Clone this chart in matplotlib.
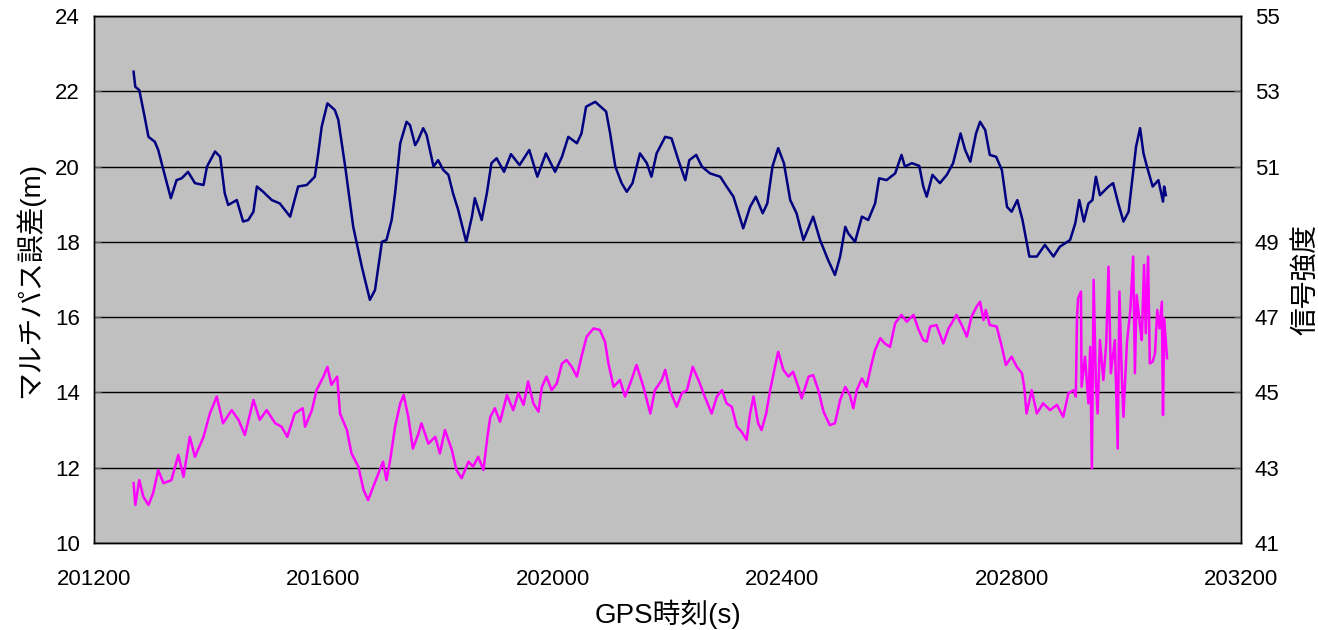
import matplotlib
matplotlib.use("Agg")
import matplotlib.pyplot as plt

# ---- data -------------------------------------------------------------
# multipath error (m), left axis
mp_time = [201269, 201272, 201279, 201286, 201295, 201306, 201312, 201321, 201334, 201344,
           201353, 201364, 201376, 201391, 201397, 201411, 201420, 201428, 201434, 201449,
           201460, 201469, 201478, 201484, 201495, 201510, 201524, 201542, 201556, 201571,
           201585, 201591, 201597, 201607, 201620, 201626, 201638, 201652, 201667, 201681,
           201690, 201702, 201710, 201719, 201725, 201734, 201745, 201751, 201760, 201765,
           201774, 201780, 201792, 201800, 201809, 201818, 201826, 201835, 201849, 201859,
           201864, 201876, 201885, 201893, 201902, 201915, 201927, 201942, 201959, 201973,
           201988, 202004, 202016, 202027, 202042, 202050, 202058, 202074, 202093, 202100,
           202109, 202120, 202129, 202139, 202152, 202164, 202172, 202181, 202196, 202207,
           202219, 202231, 202238, 202250, 202260, 202274, 202292, 202303, 202315, 202332,
           202344, 202354, 202366, 202374, 202383, 202393, 202403, 202414, 202425, 202437,
           202454, 202466, 202480, 202492, 202501, 202510, 202515, 202527, 202539, 202550,
           202562, 202569, 202582, 202597, 202608, 202614, 202626, 202639, 202646, 202652,
           202662, 202675, 202687, 202698, 202711, 202719, 202728, 202738, 202745, 202754,
           202762, 202773, 202783, 202792, 202800, 202810, 202819, 202831, 202844, 202858,
           202873, 202884, 202902, 202911, 202918, 202926, 202934, 202941, 202947, 202954,
           202969, 202977, 202986, 202995, 203004, 203009, 203017, 203024, 203030, 203036,
           203046, 203056, 203064, 203066, 203069]
mp_error = [22.52, 22.12, 22.03, 21.50, 20.79, 20.66, 20.44, 19.91, 19.16, 19.64,
            19.69, 19.86, 19.56, 19.51, 20.00, 20.40, 20.26, 19.29, 18.98, 19.11,
            18.54, 18.58, 18.80, 19.47, 19.33, 19.11, 19.02, 18.67, 19.47, 19.51,
            19.73, 20.35, 21.06, 21.68, 21.50, 21.24, 20.00, 18.40, 17.34, 16.46,
            16.72, 18.00, 18.05, 18.58, 19.29, 20.62, 21.19, 21.10, 20.57, 20.70,
            21.02, 20.84, 20.00, 20.17, 19.91, 19.78, 19.29, 18.85, 18.00, 18.67,
            19.16, 18.58, 19.29, 20.09, 20.22, 19.86, 20.33, 20.04, 20.44, 19.73,
            20.35, 19.86, 20.26, 20.79, 20.62, 20.88, 21.59, 21.72, 21.46, 20.88,
            20.00, 19.56, 19.33, 19.56, 20.35, 20.09, 19.73, 20.35, 20.79, 20.75,
            20.17, 19.64, 20.17, 20.31, 20.00, 19.82, 19.73, 19.47, 19.20, 18.36,
            18.93, 19.20, 18.76, 19.02, 20.00, 20.49, 20.09, 19.11, 18.76, 18.05,
            18.67, 18.05, 17.52, 17.12, 17.61, 18.40, 18.23, 18.00, 18.67, 18.58,
            19.02, 19.69, 19.64, 19.82, 20.31, 20.00, 20.09, 20.02, 19.47, 19.20,
            19.78, 19.56, 19.78, 20.09, 20.88, 20.44, 20.13, 20.88, 21.19, 20.97,
            20.31, 20.26, 19.91, 18.93, 18.80, 19.11, 18.58, 17.61, 17.61, 17.92,
            17.61, 17.87, 18.05, 18.49, 19.11, 18.54, 19.02, 19.11, 19.73, 19.24,
            19.47, 19.56, 19.02, 18.54, 18.80, 19.47, 20.53, 21.02, 20.35, 20.00,
            19.47, 19.64, 19.07, 19.47, 19.24]

# signal strength, right axis
sig_time = [201269, 201272, 201279, 201286, 201295, 201303, 201312, 201321, 201335, 201347,
            201356, 201367, 201376, 201391, 201402, 201414, 201425, 201440, 201452, 201463,
            201478, 201489, 201501, 201516, 201527, 201537, 201550, 201564, 201568, 201580,
            201588, 201600, 201607, 201614, 201624, 201629, 201641, 201649, 201661, 201670,
            201678, 201687, 201696, 201704, 201710, 201716, 201725, 201734, 201740, 201748,
            201756, 201765, 201771, 201783, 201795, 201803, 201812, 201824, 201832, 201841,
            201853, 201861, 201870, 201879, 201886, 201891, 201899, 201908, 201920, 201931,
            201940, 201949, 201957, 201966, 201975, 201981, 201989, 201998, 202007, 202016,
            202024, 202033, 202042, 202050, 202059, 202071, 202082, 202091, 202097, 202106,
            202117, 202126, 202135, 202146, 202158, 202170, 202178, 202190, 202196, 202204,
            202216, 202225, 202234, 202244, 202254, 202265, 202277, 202286, 202295, 202303,
            202312, 202321, 202329, 202338, 202344, 202350, 202358, 202364, 202372, 202379,
            202388, 202393, 202402, 202411, 202419, 202428, 202434, 202446, 202454, 202463,
            202472, 202483, 202492, 202501, 202510, 202518, 202524, 202530, 202539, 202547,
            202556, 202562, 202571, 202579, 202588, 202597, 202608, 202617, 202629, 202637,
            202646, 202652, 202658, 202669, 202681, 202690, 202704, 202713, 202722, 202730,
            202739, 202745, 202751, 202755, 202762, 202774, 202783, 202790, 202800, 202809,
            202818, 202822, 202826, 202835, 202844, 202855, 202867, 202879, 202890, 202899,
            202908, 202912, 202914, 202916, 202921, 202922, 202928, 202934, 202937, 202940,
            202943, 202947, 202950, 202954, 202960, 202965, 202969, 202973, 202980, 202985,
            202988, 202992, 202995, 203001, 203007, 203012, 203015, 203018, 203024, 203027,
            203031, 203034, 203038, 203041, 203046, 203050, 203054, 203058, 203062, 203064,
            203066, 203071]
sig_strength = [42.59, 42.01, 42.67, 42.23, 42.01, 42.32, 42.94, 42.59, 42.67, 43.34,
                42.76, 43.82, 43.29, 43.82, 44.44, 44.89, 44.18, 44.53, 44.27, 43.87,
                44.80, 44.27, 44.53, 44.18, 44.09, 43.82, 44.44, 44.58, 44.09, 44.53,
                45.06, 45.42, 45.68, 45.20, 45.42, 44.44, 44.00, 43.38, 43.03, 42.41,
                42.14, 42.50, 42.85, 43.16, 42.67, 43.16, 44.09, 44.71, 44.93, 44.35,
                43.51, 43.87, 44.18, 43.64, 43.82, 43.38, 44.00, 43.47, 42.94, 42.72,
                43.16, 43.03, 43.29, 42.94, 43.82, 44.35, 44.58, 44.22, 44.93, 44.53,
                44.98, 44.67, 45.29, 44.71, 44.49, 45.15, 45.42, 45.06, 45.24, 45.77,
                45.86, 45.68, 45.42, 45.95, 46.48, 46.70, 46.66, 46.35, 45.77, 45.15,
                45.33, 44.89, 45.24, 45.73, 45.15, 44.44, 45.06, 45.33, 45.60, 45.06,
                44.62, 44.98, 45.06, 45.68, 45.33, 44.89, 44.44, 44.89, 45.06, 44.71,
                44.62, 44.09, 43.96, 43.74, 44.44, 44.89, 44.18, 44.00, 44.44, 45.06,
                45.73, 46.08, 45.60, 45.42, 45.55, 45.15, 44.84, 45.42, 45.46, 45.06,
                44.49, 44.13, 44.18, 44.80, 45.15, 44.93, 44.58, 45.06, 45.37, 45.15,
                45.77, 46.13, 46.44, 46.30, 46.21, 46.84, 47.06, 46.88, 47.06, 46.70,
                46.39, 46.35, 46.75, 46.79, 46.30, 46.70, 47.06, 46.79, 46.48, 47.01,
                47.28, 47.41, 46.92, 47.19, 46.79, 46.75, 46.21, 45.73, 45.95, 45.68,
                45.51, 45.15, 44.44, 45.06, 44.44, 44.71, 44.53, 44.67, 44.35, 44.98,
                45.06, 44.89, 47.01, 47.50, 47.68, 45.15, 45.95, 44.71, 46.21, 42.98,
                47.99, 45.24, 44.44, 46.39, 45.33, 46.30, 48.34, 45.51, 46.39, 43.51,
                47.68, 45.51, 44.35, 46.30, 47.19, 48.61, 45.51, 47.59, 46.75, 46.39,
                48.39, 46.57, 48.61, 45.77, 45.82, 46.04, 47.19, 46.70, 47.41, 44.40,
                46.97, 45.91]

x_ticks = [201200, 201600, 202000, 202400, 202800, 203200]
left_ticks = [10, 12, 14, 16, 18, 20, 22, 24]
right_ticks = [41, 43, 45, 47, 49, 51, 53, 55]
x_label = "GPS時刻(s)"
left_label = "マルチパス誤差(m)"
right_label = "信号強度"

# ---- plot -------------------------------------------------------------
plt.rcParams['font.family'] = ['Liberation Sans', 'Noto Sans CJK JP', 'DejaVu Sans']

fig = plt.figure(figsize=(13.18, 6.30), dpi=100)
ax = fig.add_axes([94 / 1318, 87 / 630, 1147 / 1318, 527 / 630])
ax.set_facecolor('#C0C0C0')
ax2 = ax.twinx()

ax.plot(mp_time, mp_error, color='#000080', lw=1.8, zorder=3)
ax2.plot(sig_time, sig_strength, color='#FF00FF', lw=1.8, zorder=3)

ax.set_xlim(x_ticks[0], x_ticks[-1])
ax.set_ylim(left_ticks[0], left_ticks[-1])
ax2.set_ylim(right_ticks[0], right_ticks[-1])
ax.set_xticks(x_ticks)
ax.set_xticklabels([str(t) for t in x_ticks])
ax.set_yticks(left_ticks)
ax2.set_yticks(right_ticks)

ax.yaxis.grid(True, color='black', lw=1.0)
ax.set_axisbelow(True)

ax.tick_params(axis='x', length=0, pad=19, labelsize=16)
ax.tick_params(axis='y', direction='in', length=5, pad=10, labelsize=16, color='#606060')
ax2.tick_params(axis='y', direction='in', length=5, pad=10, labelsize=16, color='#606060')

for a in (ax, ax2):
    for s in a.spines.values():
        s.set_color('black')
        s.set_linewidth(1.0)

ax.set_xlabel(x_label, fontsize=20, labelpad=7)
ax.set_ylabel(left_label, fontsize=20, labelpad=8)
ax2.set_ylabel(right_label, fontsize=20, labelpad=10)

fig.savefig('out.png', dpi=100, facecolor='white')
